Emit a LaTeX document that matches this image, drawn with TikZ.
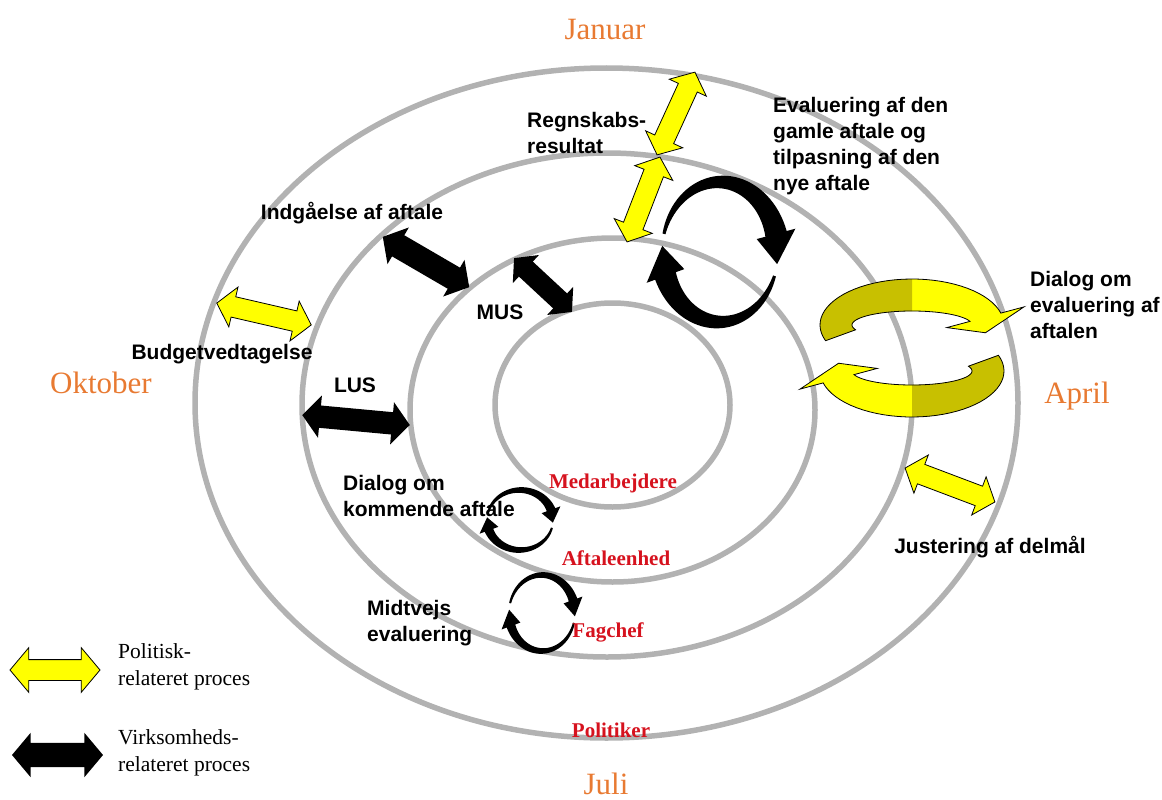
\documentclass[tikz,border=0pt]{standalone}
\usepackage{fontspec}
\setmainfont{Liberation Serif}
\newfontfamily\arialfont{Liberation Sans}
\usetikzlibrary{shapes.arrows}

\definecolor{ringgray}{RGB}{178,178,178}
\definecolor{monthorange}{RGB}{232,122,50}
\definecolor{levelred}{RGB}{214,18,30}
\definecolor{arrowyellow}{RGB}{255,255,0}
\definecolor{arrowolive}{RGB}{200,192,0}

% tapered circular arrow: style, rx, ry, start, end, tail width, end width, head half width, head angle
\newcommand{\turnarrow}[9]{%
  \path[#1] plot[domain=#4:#5, samples=40, variable=\ang]
      ({(#2+(#6+(#7-(#6))*(\ang-(#4))/((#5)-(#4)))/2)*cos(\ang)},
       {(#3+(#6+(#7-(#6))*(\ang-(#4))/((#5)-(#4)))/2)*sin(\ang)})
    -- ({(#2+#8)*cos(#5)}, {(#3+#8)*sin(#5)})
    -- ({#2*cos(#5+#9)}, {#3*sin(#5+#9)})
    -- ({(#2-#8)*cos(#5)}, {(#3-#8)*sin(#5)})
    -- plot[domain=#5:#4, samples=40, variable=\ang]
      ({(#2-(#6+(#7-(#6))*(\ang-(#4))/((#5)-(#4)))/2)*cos(\ang)},
       {(#3-(#6+(#7-(#6))*(\ang-(#4))/((#5)-(#4)))/2)*sin(\ang)})
    -- cycle;%
}

\begin{document}
\begin{tikzpicture}[x=1pt, y=-1pt,
  ring/.style={draw=ringgray, line width=5.5pt},
  month/.style={text=monthorange, font=\fontsize{31}{31}\selectfont},
  level/.style={text=levelred, font=\fontsize{21}{21}\selectfont\bfseries},
  lbl/.style={font=\arialfont\bfseries\fontsize{21}{26}\selectfont, align=left, inner sep=0pt},
  legend/.style={font=\fontsize{21.5}{27}\selectfont, align=left, anchor=west, inner sep=0pt},
  dbl/.style={double arrow, inner sep=0pt, double arrow tip angle=100},
  dblyellow/.style={dbl, fill=arrowyellow, draw=black, line width=0.8pt},
  dblblack/.style={dbl, fill=black}]

  \useasboundingbox (0,0) rectangle (1162,800);

  % the four rings
  \draw[ring] (606.5,403) ellipse [x radius=411.5pt, y radius=335pt];
  \draw[ring] (607,405) ellipse [x radius=305pt, y radius=252pt];
  \draw[ring] (612.5,410) ellipse [x radius=202.5pt, y radius=172pt];
  \draw[ring] (612.5,405) ellipse [x radius=117.5pt, y radius=102pt];

  % double arrows
  \node[dblyellow, minimum height=91pt, inner ysep=10pt, double arrow head extend=10pt, rotate=65.4] (regn1) at (676,113.5) {};
  \node[dblyellow, minimum height=91pt, inner ysep=10pt, double arrow head extend=10pt, rotate=68.8] (regn2) at (643.5,199.5) {};
  \node[dblblack, minimum height=100pt, inner ysep=12pt, double arrow head extend=9pt, rotate=-30.2] (indg) at (426,262) {};
  \node[dblblack, minimum height=79pt, inner ysep=10pt, double arrow head extend=9pt, rotate=-42.9] (mus) at (543,285) {};
  \node[dblyellow, minimum height=97pt, inner ysep=10pt, double arrow head extend=10pt, rotate=-13] (budget) at (264,314) {};
  \node[dblblack, minimum height=108pt, inner ysep=11pt, double arrow head extend=10pt, rotate=-5.3] (lus) at (356,420) {};
  \node[dblyellow, minimum height=96pt, inner ysep=10pt, double arrow head extend=10pt, rotate=-20.7] (just) at (950,485) {};

  % circular arrows
  \coordinate (bigcyc) at (720,252);
  \begin{scope}[shift={(bigcyc)}]
    \turnarrow{fill=black}{58}{70}{195}{345}{3}{22}{20}{25}
    \turnarrow{fill=black}{58}{70}{20}{160}{3}{22}{20}{25}
  \end{scope}
  \coordinate (dialogcyc) at (520,520);
  \begin{scope}[shift={(dialogcyc)}]
    \turnarrow{fill=black}{33}{30}{195}{340}{2}{9}{10}{25}
    \turnarrow{fill=black}{33}{30}{15}{160}{2}{9}{10}{25}
  \end{scope}
  \coordinate (midtcyc) at (542,613);
  \begin{scope}[shift={(midtcyc)}]
    \turnarrow{fill=black}{33}{38}{195}{340}{2}{9}{10}{25}
    \turnarrow{fill=black}{33}{38}{15}{160}{2}{9}{10}{25}
  \end{scope}
  \coordinate (yellowup) at (912,325);
  \begin{scope}[shift={(yellowup)}]
    \turnarrow{fill=arrowyellow}{76}{30}{160}{345}{32}{32}{40}{30}
    \begin{scope}
      \clip (-110,-110) rectangle (0,60);
      \turnarrow{fill=arrowolive}{76}{30}{160}{345}{32}{32}{40}{30}
    \end{scope}
    \turnarrow{draw=black, line width=0.8pt}{76}{30}{160}{345}{32}{32}{40}{30}
  \end{scope}
  \coordinate (yellowdown) at (912,371);
  \begin{scope}[shift={(yellowdown)}]
    \turnarrow{fill=arrowyellow}{76}{30}{-20}{165}{32}{32}{40}{30}
    \begin{scope}
      \clip (0,-60) rectangle (110,110);
      \turnarrow{fill=arrowolive}{76}{30}{-20}{165}{32}{32}{40}{30}
    \end{scope}
    \turnarrow{draw=black, line width=0.8pt}{76}{30}{-20}{165}{32}{32}{40}{30}
  \end{scope}

  % months
  \node[month] (jan) at (605,30) {Januar};
  \node[month] (okt) at (101,383) {Oktober};
  \node[month] (apr) at (1077,396) {April};
  \node[month] (jul) at (606,784) {Juli};

  % levels
  \node[level] (medarb) at (613,483) {Medarbejdere};
  \node[level] (aftaleenh) at (616,558) {Aftaleenhed};
  \node[level] (fagchef) at (608,632) {Fagchef};
  \node[level] (politiker) at (611,730) {Politiker};

  % process labels
  \node[lbl, anchor=west] (regnskab) at (527,133) {Regnskabs-\\resultat};
  \node[lbl, anchor=west] (evaluering) at (773,146) {Evaluering af den\\gamle aftale og\\tilpasning af den\\nye aftale};
  \node[lbl] (indgaaelse) at (352,213) {Indgåelse af aftale};
  \node[lbl] (muslbl) at (500,312) {MUS};
  \node[lbl] (budgetlbl) at (222,354) {Budgetvedtagelse};
  \node[lbl] (luslbl) at (355,385) {LUS};
  \node[lbl, anchor=west] (dialogeval) at (1030,305) {Dialog om\\evaluering af\\aftalen};
  \node[lbl, anchor=west] (dialogkomm) at (343,496) {Dialog om\\kommende aftale};
  \node[lbl] (justering) at (990,547) {Justering af delmål};
  \node[lbl, anchor=west] (midtvejs) at (367,623) {Midtvejs\\evaluering};

  % legend
  \node[dblyellow, minimum height=90pt, inner ysep=10pt, double arrow head extend=12pt] (legpol) at (55,670) {};
  \node[dblblack, minimum height=91pt, inner ysep=12pt, double arrow head extend=10pt] (legvirk) at (57.5,755) {};
  \node[legend] (legpoltxt) at (118,667) {Politisk-\\relateret proces};
  \node[legend] (legvirktxt) at (118,753) {Virksomheds-\\relateret proces};

\end{tikzpicture}
\end{document}
